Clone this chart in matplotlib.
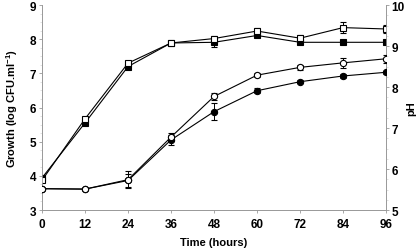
import numpy as np
import matplotlib.pyplot as plt
from matplotlib.ticker import MultipleLocator

plt.rcParams['font.family'] = ['Liberation Sans', 'DejaVu Sans']
plt.rcParams['mathtext.fontset'] = 'custom'
plt.rcParams['mathtext.rm'] = 'Liberation Sans'
plt.rcParams['mathtext.bf'] = 'Liberation Sans:bold'

# time points (hours)
hours = [0, 12, 24, 36, 48, 60, 72, 84, 96]

# growth (log CFU/ml) - squares, left axis
growth_filled = [3.94, 5.55, 7.20, 7.89, 7.91, 8.11, 7.91, 7.91, 7.91]
growth_filled_err = [0.03, 0.03, 0.03, 0.02, 0.15, 0.05, 0.03, 0.03, 0.05]
growth_open = [3.87, 5.67, 7.30, 7.89, 8.02, 8.24, 8.03, 8.34, 8.30]
growth_open_err = [0.03, 0.03, 0.03, 0.02, 0.06, 0.10, 0.08, 0.15, 0.12]

# pH - circles, right axis
ph_open = [5.52, 5.51, 5.74, 6.78, 7.77, 8.29, 8.48, 8.59, 8.69]
ph_open_err = [0.02, 0.02, 0.20, 0.10, 0.08, 0.05, 0.06, 0.12, 0.10]
ph_filled = [5.52, 5.51, 5.72, 6.71, 7.40, 7.91, 8.13, 8.27, 8.36]
ph_filled_err = [0.02, 0.02, 0.15, 0.12, 0.20, 0.06, 0.03, 0.04, 0.03]

spine_col = '#999999'

fig = plt.figure(figsize=(4.16, 2.53), dpi=100)
ax = fig.add_axes([0.101, 0.166, 0.827, 0.81])
ax2 = ax.twinx()

ekw = dict(color='black', lw=0.8, ms=4.5, mew=0.8, capsize=2, elinewidth=0.7, capthick=0.7)

ax.errorbar(hours, growth_filled, yerr=growth_filled_err, marker='s', mfc='black', mec='black', zorder=3, **ekw)
ax.errorbar(hours, growth_open, yerr=growth_open_err, marker='s', mfc='white', mec='black', zorder=4, **ekw)
ax2.errorbar(hours, ph_filled, yerr=ph_filled_err, marker='o', mfc='black', mec='black', zorder=3, **ekw)
ax2.errorbar(hours, ph_open, yerr=ph_open_err, marker='o', mfc='white', mec='black', zorder=4, **ekw)

ax.set_xlim(0, 96)
ax.set_ylim(3, 9)
ax2.set_ylim(5, 10)
ax.set_xticks(hours)
ax.set_yticks(range(3, 10))
ax2.set_yticks(range(5, 11))
ax.yaxis.set_minor_locator(MultipleLocator(0.25))
ax2.yaxis.set_minor_locator(MultipleLocator(0.25))

for a in (ax, ax2):
    a.spines['top'].set_visible(False)
    for s in ('left', 'right', 'bottom'):
        a.spines[s].set_color(spine_col)
        a.spines[s].set_linewidth(0.6)
    a.tick_params(which='major', length=2.5, width=0.6, color=spine_col, labelsize=8.5, pad=1.5)
    a.tick_params(which='minor', length=1.5, width=0.4, color='#cccccc')
    for lab in a.get_xticklabels() + a.get_yticklabels():
        lab.set_fontweight('bold')
ax.tick_params(axis='x', pad=3)

ax.set_xlabel('Time (hours)', fontsize=8, fontweight='bold', labelpad=5)
ax.set_ylabel('Growth (log CFU.ml$^{\\mathbf{-1}}$)', fontsize=8, fontweight='bold', labelpad=7)
ax2.set_ylabel('pH', fontsize=8, fontweight='bold', labelpad=1)

fig.savefig('out.png', dpi=100)
